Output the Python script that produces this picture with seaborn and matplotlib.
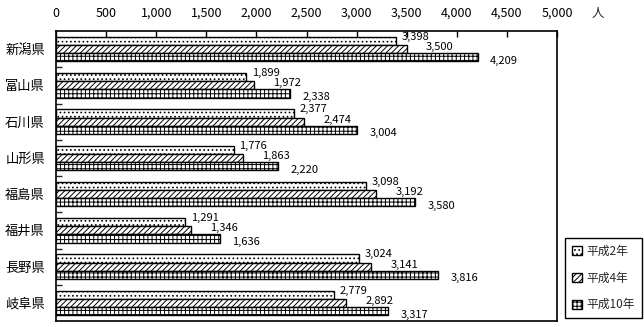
import matplotlib
matplotlib.use("Agg")
import matplotlib.pyplot as plt
import seaborn as sns
import pandas as pd
import numpy as np
from matplotlib.ticker import FuncFormatter, FixedLocator

prefectures = ["新潟県", "富山県", "石川県", "山形県", "福島県", "福井県", "長野県", "岐阜県"]
series_names = ["平成2年", "平成4年", "平成10年"]
h2 = [3398, 1899, 2377, 1776, 3098, 1291, 3024, 2779]
h4 = [3500, 1972, 2474, 1863, 3192, 1346, 3141, 2892]
h10 = [4209, 2338, 3004, 2220, 3580, 1636, 3816, 3317]
xticks = [0, 500, 1000, 1500, 2000, 2500, 3000, 3500, 4000, 4500, 5000]
unit_label = "人"

sns.set_theme(style="white")
plt.rcParams['font.family'] = ['Noto Sans CJK JP', 'DejaVu Sans']
plt.rcParams['hatch.linewidth'] = 0.7

rows = []
for s, vals in zip(series_names, [h2, h4, h10]):
    for p, v in zip(prefectures, vals):
        rows.append({"pref": p, "series": s, "value": v})
df = pd.DataFrame(rows)

fig = plt.figure(figsize=(6.44, 3.27), dpi=100)
ax = fig.add_axes([56/644, 1-321/327, (557-56)/644, (321-31)/327])

sns.barplot(data=df, x="value", y="pref", hue="series", order=prefectures,
            hue_order=series_names, orient="h", width=0.68, ax=ax,
            palette=["white"]*3, edgecolor="black", linewidth=1.0,
            legend=True)

hatches = ["....", "//////", "++++"]
for cont, hatch in zip(ax.containers, hatches):
    for bar in cont:
        bar.set_hatch(hatch)
        bar.set_facecolor("white")
        bar.set_edgecolor("black")

# value labels
offsets = [(4, 3), (14, 1.5), (9, -2.5)]
for ci, (cont, vals) in enumerate(zip(ax.containers, [h2, h4, h10])):
    dx, dy = offsets[ci]
    for bar, v in zip(cont, vals):
        yc = bar.get_y() + bar.get_height() / 2
        ax.annotate(f"{v:,}", xy=(v, yc), xytext=(dx, dy), textcoords="offset points",
                    ha="left", va="center", fontsize=8, color="black")

ax.set_xlim(0, 5000)
ax.set_ylim(7.5, -0.5)
ax.xaxis.set_major_locator(FixedLocator(xticks))
ax.xaxis.set_major_formatter(FuncFormatter(lambda x, p: f"{int(x):,}"))
ax.xaxis.tick_top()
ax.tick_params(axis="x", which="major", direction="in", length=4, width=1,
               top=True, bottom=False, labeltop=True, labelbottom=False,
               pad=8, labelsize=9, colors="black")
ax.set_yticks(range(len(prefectures)))
ax.set_yticklabels(prefectures)
ax.tick_params(axis="y", which="major", length=0, pad=8, labelsize=9.5, colors="black")
ax.yaxis.set_minor_locator(FixedLocator(np.arange(0.5, 7.5, 1.0)))
ax.tick_params(axis="y", which="minor", direction="in", length=4, width=1, left=True)
ax.set_xlabel("")
ax.set_ylabel("")
for sp in ax.spines.values():
    sp.set_visible(True)
    sp.set_color("black")
    sp.set_linewidth(1.2)

fig.text(598/644, 1-13/327, unit_label, ha="center", va="center", fontsize=9)

handles, labels = ax.get_legend_handles_labels()
if ax.legend_:
    ax.legend_.remove()
leg = fig.legend(handles, labels, loc="upper left",
                 bbox_to_anchor=(565/644, 1-238/327), bbox_transform=fig.transFigure,
                 frameon=True, fancybox=False, edgecolor="black", framealpha=1,
                 handlelength=0.8, handleheight=0.8, handletextpad=0.4,
                 labelspacing=1.15, borderpad=0.6, fontsize=8.5, borderaxespad=0)
leg.get_frame().set_linewidth(1.0)
for h, hatch in zip(leg.legend_handles, hatches):
    h.set_hatch(hatch)
    h.set_facecolor("white")
    h.set_edgecolor("black")

fig.savefig("out.png", dpi=100)
